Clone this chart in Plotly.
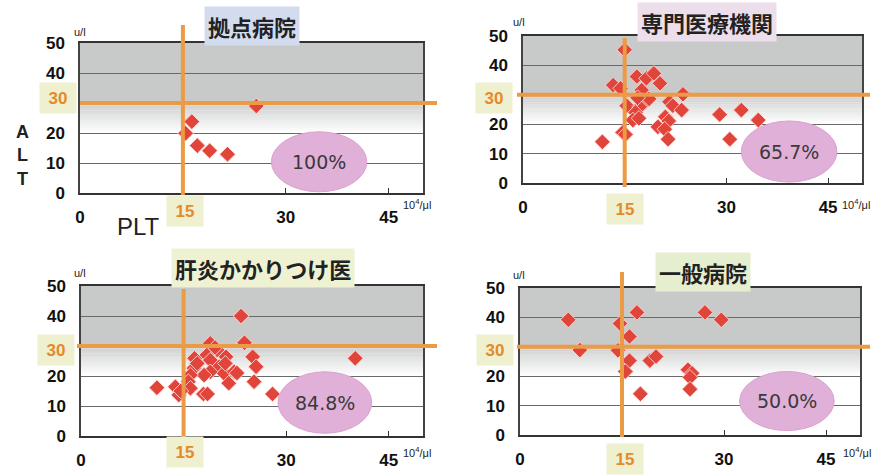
import plotly.graph_objects as go

W, H = 879, 475

# ---------------- data ----------------
titles = ["拠点病院", "専門医療機関", "肝炎かかりつけ医", "一般病院"]
percent_labels = ["100%", "65.7%", "84.8%", "50.0%"]

kyoten_plt = [25.7, 16.3, 15.4, 17.1, 18.9, 21.5]
kyoten_alt = [29.0, 23.8, 19.9, 15.8, 14.1, 12.9]

senmon_plt = [15.0, 13.3, 14.4, 16.8, 18.2, 19.3, 20.2, 17.5, 23.6, 15.3, 18.0, 17.2,
              16.6, 16.2, 17.1, 21.6, 22.1, 23.4, 21.0, 21.5, 19.9, 20.9, 21.4, 14.7,
              15.1, 11.7, 29.0, 32.2, 34.7, 30.5, 18.6, 16.9]
senmon_alt = [45.3, 33.3, 32.2, 36.2, 35.6, 37.3, 33.9, 31.6, 30.2, 26.3, 27.6, 25.9,
              24.0, 21.4, 22.0, 27.6, 26.3, 24.8, 22.5, 21.1, 19.1, 18.3, 14.9, 17.2,
              16.5, 14.0, 23.3, 24.8, 21.4, 14.9, 28.6, 29.0]

kakari_plt = [18.9, 23.9, 19.9, 18.4, 16.6, 21.2, 18.9, 25.1, 25.6, 20.2, 16.5, 20.9,
              18.9, 18.0, 22.4, 16.0, 15.7, 21.6, 25.3, 16.0, 11.1, 13.8, 14.3, 17.9,
              18.5, 28.0, 23.4, 40.1, 17.0, 21.1, 19.6, 14.6, 22.8]
kakari_alt = [30.9, 31.1, 28.7, 27.0, 25.9, 26.4, 25.3, 26.4, 23.1, 23.1, 22.6, 20.9,
              21.4, 20.3, 21.4, 20.3, 18.1, 17.6, 18.1, 15.9, 16.1, 16.4, 13.7, 14.0,
              14.0, 14.0, 40.0, 25.9, 24.2, 24.2, 29.5, 15.0, 21.0]

ippan_plt = [17.2, 27.2, 29.6, 14.7, 16.1, 14.4, 16.1, 19.1, 20.0, 15.5, 24.7, 25.3,
             25.0, 25.0, 17.7, 7.1, 8.8]
ippan_alt = [41.7, 41.7, 39.2, 37.9, 33.5, 28.8, 25.3, 25.3, 26.7, 21.6, 22.2, 21.0,
             19.6, 15.6, 14.0, 39.2, 28.9]

series = [(kyoten_plt, kyoten_alt), (senmon_plt, senmon_alt),
          (kakari_plt, kakari_alt), (ippan_plt, ippan_alt)]

plt_cut, alt_cut = 15, 30
x_ticks = [0, 30, 45]          # 15 is drawn as a highlighted box label
y_ticks = [0, 10, 20, 40, 50]  # 30 is drawn as a highlighted box label

# ---------------- layout geometry (pixels) ----------------
boxes = [(80, 423, 43, 193), (523, 862, 36, 183), (81, 423, 286, 436), (520, 860, 288, 435)]
title_pos = [(252, 26), (707, 22), (263, 268), (703, 272)]
title_bg = ["#d3dcef", "#eddeec", "#eef1d2", "#e6eed0"]
ellipses = [(27.9, 41.8, 0.4, 20.4), (32.2, 46.3, 0.3, 21.1), (28.8, 42.5, 0.9, 21.4), (32.3, 46.2, 1.5, 21.6)]
box30 = [(58, 98), (494, 98), (56, 350), (495, 350)]
box15 = [(185, 211), (625, 209), (185, 452), (625, 459)]
vline_ext = [(25, 195), (38, 187), (289, 437), (272, 437)]
hline_ext = [(80, 437), (517, 870), (77, 437), (517, 870)]
unit_y = [(80, 32), (519, 22), (80, 273), (519, 275)]
unit_x = [(417, 204), (856, 204), (417, 452), (857, 452)]

ORANGE = "#eb9a45"
LABEL_ORANGE = "#e58a2c"
BOXBG = "#eef0cf"
FONT = "Liberation Sans, Arial, sans-serif"
CJK = "Noto Sans CJK JP, sans-serif"


def px(x, y):
    return x / W, 1 - y / H


def paper_note(x, y, text, **kw):
    ax_, ay_ = px(x, y)
    d = dict(xref="paper", yref="paper", x=ax_, y=ay_, text=text, showarrow=False,
             xanchor="center", yanchor="middle")
    d.update(kw)
    return d


fig = go.Figure()
shapes = []
annotations = []

for i, (b, (xs, ys)) in enumerate(zip(boxes, series)):
    n = "" if i == 0 else str(i + 1)
    xa, ya = "x" + n, "y" + n
    l, r, t, bt = b
    fig.add_trace(go.Scatter(
        x=xs, y=ys, mode="markers", xaxis=xa, yaxis=ya, showlegend=False,
        marker=dict(symbol="diamond", size=12, color="#e0443a",
                    line=dict(width=1, color="rgba(255,215,210,0.9)")),
        cliponaxis=False,
    ))
    fig.layout["xaxis" + n] = dict(
        domain=[l / W, r / W], range=[0, 50], anchor=ya, automargin=False,
        tickvals=x_ticks,
        ticks="inside", ticklen=5, tickcolor="#333", showgrid=False,
        tickfont=dict(family=FONT, size=17, color="#111", weight="bold"),
        ticklabelstandoff=8,
        zeroline=False, showline=True, mirror=True, linecolor="#333", linewidth=1.5,
    )
    fig.layout["yaxis" + n] = dict(
        domain=[1 - bt / H, 1 - t / H], range=[0, 50], anchor=xa, automargin=False,
        tickvals=y_ticks,
        showgrid=True, gridcolor="#6a6a6a", gridwidth=1,
        tickfont=dict(family=FONT, size=17, color="#111", weight="bold"),
        ticklabelstandoff=10,
        zeroline=False, showline=True, mirror=True, linecolor="#444", linewidth=1.5,
    )
    # grey background region with fade
    shapes.append(dict(type="rect", xref=xa, yref=ya, x0=0, x1=50, y0=30, y1=50,
                       fillcolor="#c8c9c9", line=dict(width=0), layer="below"))
    steps = 12
    for k in range(steps):
        y0 = 30 - (k + 1) * 10 / steps
        y1 = 30 - k * 10 / steps
        op = 0.9 * (1 - (k + 0.5) / steps)
        shapes.append(dict(type="rect", xref=xa, yref=ya, x0=0, x1=50, y0=y0, y1=y1,
                           fillcolor="#c8c9c9", opacity=op, line=dict(width=0), layer="below"))
    # orange threshold lines
    ht = (bt - t)
    vx = plt_cut / 50
    vy0 = (bt - vline_ext[i][1]) / ht
    vy1 = (bt - vline_ext[i][0]) / ht
    shapes.append(dict(type="line", xref=xa + " domain", yref=ya + " domain",
                       x0=vx, x1=vx, y0=vy0, y1=vy1, line=dict(color=ORANGE, width=4)))
    hx0 = (hline_ext[i][0] - l) / (r - l)
    hx1 = (hline_ext[i][1] - l) / (r - l)
    hy = alt_cut / 50
    shapes.append(dict(type="line", xref=xa + " domain", yref=ya + " domain",
                       x0=hx0, x1=hx1, y0=hy, y1=hy, line=dict(color=ORANGE, width=4)))
    # ellipse with percentage
    ex0, ex1, ey0, ey1 = ellipses[i]
    shapes.append(dict(type="circle", xref=xa, yref=ya, x0=ex0, x1=ex1, y0=ey0, y1=ey1,
                       fillcolor="#e0b0d8", line=dict(color="#d9a2cf", width=1)))
    annotations.append(dict(xref=xa, yref=ya, x=(ex0 + ex1) / 2, y=(ey0 + ey1) / 2,
                            text=percent_labels[i], showarrow=False,
                            xanchor="center", yanchor="middle",
                            font=dict(family="DejaVu Sans, sans-serif", size=19, color="#3a3a3a")))
    # title
    annotations.append(paper_note(*title_pos[i], titles[i], bgcolor=title_bg[i], borderpad=3,
                                  font=dict(family=CJK, size=22, color="#222", weight="bold")))
    # boxed orange tick labels
    annotations.append(paper_note(*box30[i], str(alt_cut), bgcolor=BOXBG, width=30, height=24,
                                  borderpad=3,
                                  font=dict(family=FONT, size=17, color=LABEL_ORANGE, weight="bold")))
    annotations.append(paper_note(*box15[i], str(plt_cut), bgcolor=BOXBG, width=30, height=24,
                                  borderpad=3,
                                  font=dict(family=FONT, size=17, color=LABEL_ORANGE, weight="bold")))
    # units
    annotations.append(paper_note(*unit_y[i], "u/l", font=dict(family=FONT, size=11, color="#222")))
    annotations.append(paper_note(*unit_x[i], "10<sup>4</sup>/μl",
                                  font=dict(family=FONT, size=11, color="#222")))

# axis names (first panel only)
annotations.append(paper_note(22, 155, "A<br>L<br>T",
                              font=dict(family=FONT, size=18, color="#222", weight="bold")))
annotations.append(paper_note(138, 226, "PLT", font=dict(family=FONT, size=24, color="#222")))

fig.update_layout(
    width=W, height=H, margin=dict(l=0, r=0, t=0, b=0, autoexpand=False),
    paper_bgcolor="white", plot_bgcolor="white",
    shapes=shapes, annotations=annotations, showlegend=False,
)

fig.write_html("out.html", config={"displayModeBar": False},
               post_script="document.body.style.margin='0';")
